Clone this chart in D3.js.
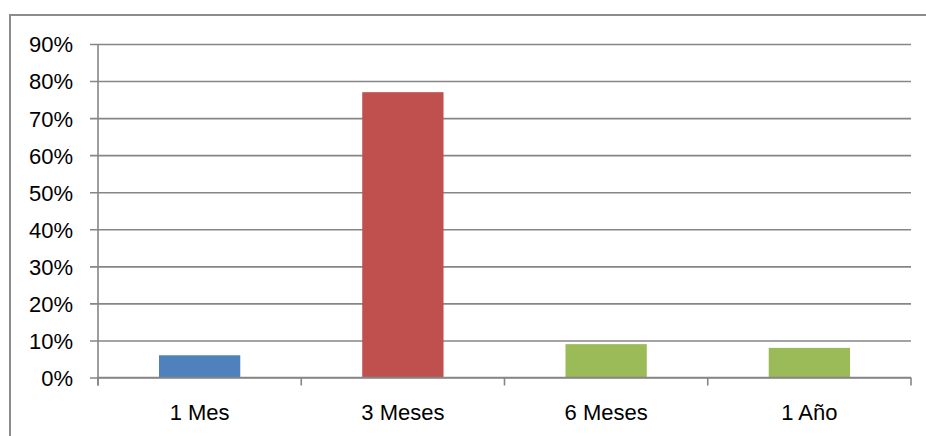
<!DOCTYPE html>
<html>
<head>
<meta charset="utf-8">
<script src="https://cdn.jsdelivr.net/npm/d3@7"></script>
<style>
  html, body { margin: 0; padding: 0; background: #fff; }
  svg { display: block; }
  text { font-family: "Liberation Sans", Arial, sans-serif; fill: #000; }
</style>
</head>
<body>
<svg id="chart" width="926" height="436"></svg>
<script>
// Time-period categories and their share of responses
const categories = ["1 Mes", "3 Meses", "6 Meses", "1 Año"];
const shares = [0.06, 0.77, 0.09, 0.08];
const barColors = ["#4F81BD", "#C0504D", "#9BBB59", "#9BBB59"];
const yTicks = [0, 0.1, 0.2, 0.3, 0.4, 0.5, 0.6, 0.7, 0.8, 0.9];

const svg = d3.select("#chart");
const W = 926, H = 436;
const plot = { left: 98, right: 911, top: 44, bottom: 377.5 };
const gridColor = "#868686";
const fontSize = "22px";

// outer frame of the chart area
svg.append("rect")
  .attr("x", 10).attr("y", 15)
  .attr("width", W).attr("height", H)
  .attr("fill", "none")
  .attr("stroke", "#8c8c8c")
  .attr("stroke-width", 2);

const x = d3.scaleBand()
  .domain(categories)
  .range([plot.left, plot.right])
  .padding(0);

const y = d3.scaleLinear()
  .domain([0, 0.9])
  .range([plot.bottom, plot.top]);

// horizontal gridlines with tick labels
const yAxis = d3.axisLeft(y)
  .tickValues(yTicks)
  .tickFormat(d3.format(".0%"))
  .tickSize(plot.right - plot.left + 8)
  .tickSizeOuter(0)
  .tickPadding(0);

const gy = svg.append("g")
  .attr("transform", `translate(${plot.right},0)`)
  .call(yAxis);
gy.select(".domain").remove();
gy.selectAll(".tick line")
  .attr("stroke", gridColor)
  .attr("stroke-width", 1.6);
gy.selectAll(".tick text")
  .attr("x", -(plot.right - 73))
  .attr("dy", "0.36em")
  .attr("text-anchor", "end")
  .style("font-size", fontSize);

// vertical axis line
svg.append("line")
  .attr("x1", plot.left).attr("x2", plot.left)
  .attr("y1", plot.top).attr("y2", plot.bottom + 8)
  .attr("stroke", gridColor)
  .attr("stroke-width", 1.6);

// bars
const barFrac = 0.40;
svg.append("g")
  .selectAll("rect")
  .data(categories)
  .join("rect")
  .attr("x", d => x(d) + x.bandwidth() * (1 - barFrac) / 2)
  .attr("width", x.bandwidth() * barFrac)
  .attr("y", (d, i) => y(shares[i]))
  .attr("height", (d, i) => y(0) - y(shares[i]))
  .attr("fill", (d, i) => barColors[i]);

// category axis along the bottom with boundary ticks
const boundaries = categories.map(c => x(c)).concat([plot.right]);
const gx = svg.append("g");
gx.append("line")
  .attr("x1", plot.left).attr("x2", plot.right)
  .attr("y1", plot.bottom).attr("y2", plot.bottom)
  .attr("stroke", gridColor)
  .attr("stroke-width", 1.6);
gx.selectAll("line.tk")
  .data(boundaries)
  .join("line")
  .attr("class", "tk")
  .attr("x1", d => d).attr("x2", d => d)
  .attr("y1", plot.bottom).attr("y2", plot.bottom + 8)
  .attr("stroke", gridColor)
  .attr("stroke-width", 1.6);
gx.selectAll("text")
  .data(categories)
  .join("text")
  .attr("x", d => x(d) + x.bandwidth() / 2)
  .attr("y", 420)
  .attr("text-anchor", "middle")
  .style("font-size", fontSize)
  .text(d => d);
</script>
</body>
</html>
